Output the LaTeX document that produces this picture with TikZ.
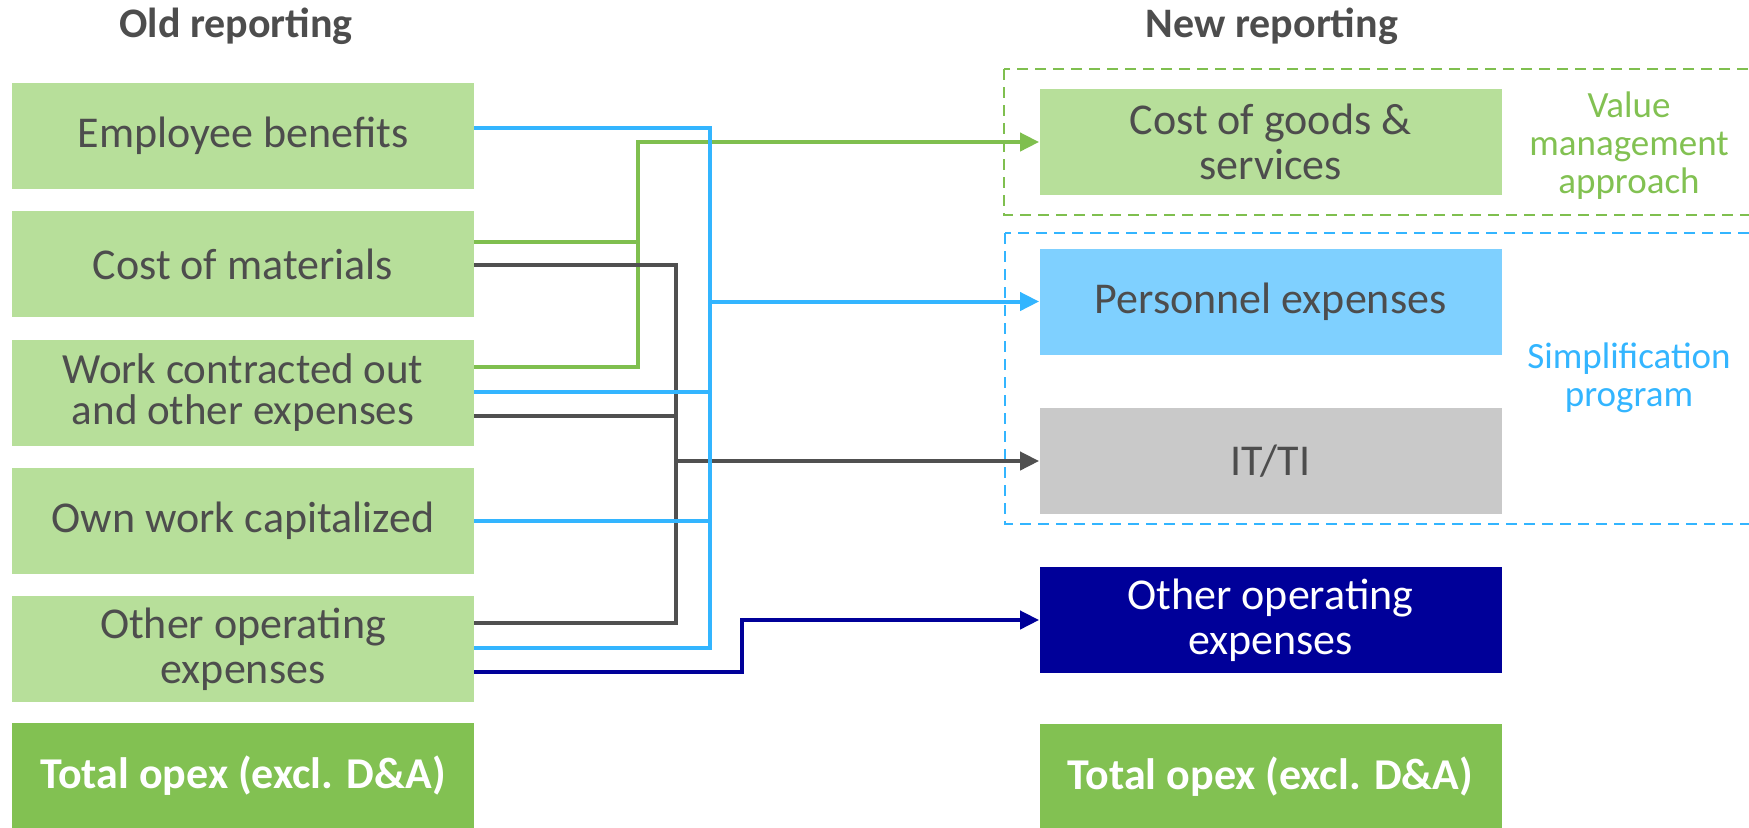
\documentclass[tikz,border=0pt]{standalone}
\usepackage{fontspec}
\setmainfont{Carlito}
\usetikzlibrary{calc,arrows.meta}
\definecolor{boxgreen}{RGB}{183,223,154}
\definecolor{totgreen}{RGB}{130,193,82}
\definecolor{txtgray}{RGB}{77,77,77}
\definecolor{boxblue}{RGB}{127,208,255}
\definecolor{boxgray}{RGB}{201,201,201}
\definecolor{navy}{RGB}{0,0,153}
\definecolor{lblue}{RGB}{51,181,255}
\definecolor{lgreen}{RGB}{127,191,79}
\definecolor{ldark}{RGB}{80,80,80}
\tikzset{
  box/.style={rectangle, inner sep=0pt, minimum width=231pt, minimum height=53pt, align=center,
    text=txtgray, font=\fontsize{22}{22.5}\selectfont},
  oldbox/.style={box, fill=boxgreen},
  totbox/.style={box, fill=totgreen, text=white, font=\bfseries\fontsize{22}{22.5}\selectfont},
  header/.style={anchor=base, text=txtgray, font=\bfseries\fontsize{21}{23}\selectfont},
  side/.style={align=center, font=\fontsize{18.5}{19}\selectfont},
  conn/.style={line width=2pt},
  gline/.style={conn, draw=lgreen},
  bline/.style={conn, draw=lblue},
  dline/.style={conn, draw=ldark},
  nline/.style={conn, draw=navy},
  tip/.style={-{Triangle[length=9.5pt,width=9pt]}},
  dashbox/.style={line width=1pt, dash pattern=on 5.5pt off 3.5pt}
}
\begin{document}
\begin{tikzpicture}[x=0.5pt,y=-0.5pt]
\useasboundingbox (0,0) rectangle (1749,827);
% headers
\node[header] (hold) at (236,37) {Old reporting};
\node[header] (hnew) at (1272,37) {New reporting};
% dashed group frames
\draw[dashbox, draw=lgreen] (1004,69) rectangle (1770,215);
\draw[dashbox, draw=lblue] (1005,233) rectangle (1770,524);
% old boxes
\node[oldbox] (b1) at (243,136) {Employee benefits};
\node[oldbox] (b2) at (243,264) {Cost of materials};
\node[oldbox, font=\fontsize{21.5}{20.5}\selectfont] (b3) at (243,393) {Work contracted out\\and other expenses};
\node[oldbox] (b4) at (243,521) {Own work capitalized};
\node[oldbox] (b5) at (243,649) {Other operating\\expenses};
\node[totbox] (b6) at (243,776) {Total opex (excl. D\&A)};
% new boxes
\node[box, fill=boxgreen] (c1) at (1270.5,142) {Cost of goods \&\\services};
\node[box, fill=boxblue] (c2) at (1270.5,301.5) {Personnel expenses};
\node[box, fill=boxgray] (c3) at (1270.5,461) {IT/TI};
\node[box, fill=navy, text=white] (c4) at (1270.5,620) {Other operating\\expenses};
\node[totbox] (c5) at (1270.5,777) {Total opex (excl. D\&A)};
% side labels
\node[side, text=totgreen] (s1) at (1629,146) {Value\\management\\approach};
\node[side, text=lblue] (s2) at (1629,378) {Simplification\\program};
% junction coordinates
\coordinate (gtop) at ($(c1.west)+(-401,0)$);
\coordinate (bx5) at ($(b5.east)+(236,-1)$);
\coordinate (dx5) at ($(b5.east)+(202,-26)$);
\coordinate (nj) at ($(b5.east)+(268,0)$);
% green connectors
\draw[gline] ($(b2.east)+(0,-22)$) -| (gtop);
\draw[gline, tip] ($(b3.east)+(0,-26)$) -| (gtop) -- (c1.west);
% dark connectors
\draw[dline] ($(b2.east)+(0,1)$) -| (dx5) -- ($(b5.east)+(0,-26)$);
\draw[dline] ($(b3.east)+(0,23)$) -| (dx5);
\draw[dline, tip] (dx5 |- c3.west) -- (c3.west);
% blue connectors
\draw[bline] ($(b1.east)+(0,-8)$) -| (bx5) -- ($(b5.east)+(0,-1)$);
\draw[bline] ($(b3.east)+(0,-1)$) -| (bx5);
\draw[bline] ($(b4.east)+(0,0)$) -| (bx5);
\draw[bline, tip] (bx5 |- c2.west) -- (c2.west);
% navy connector
\draw[nline, tip] ($(b5.east)+(0,23)$) -| (nj) |- (c4.west);
\end{tikzpicture}
\end{document}
